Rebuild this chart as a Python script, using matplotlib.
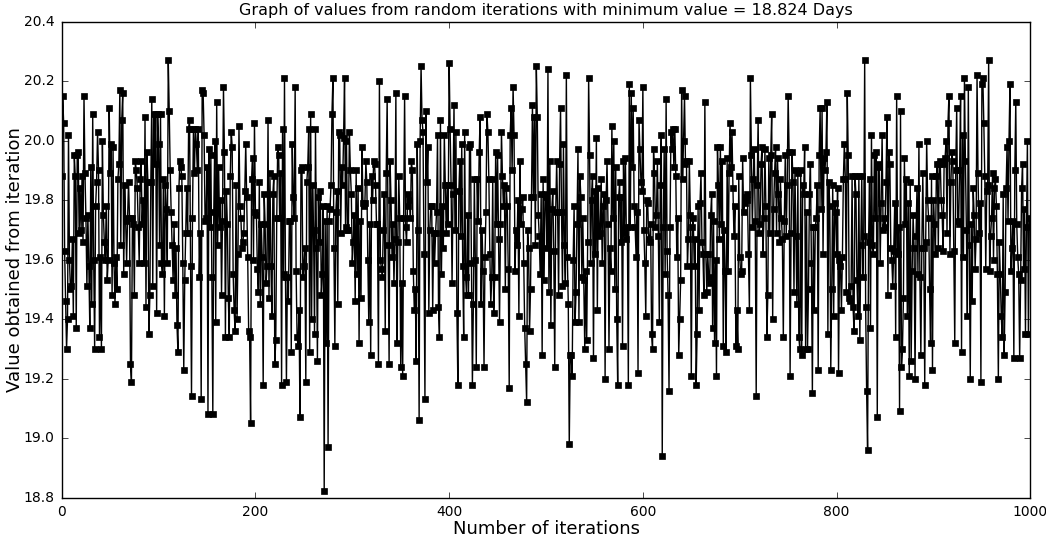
import numpy as np
import matplotlib
matplotlib.use('Agg')
import matplotlib.pyplot as plt

# values, one per iteration (0..999)
values = [
    # 0-84
    19.88, 20.15, 20.06, 19.63, 19.46, 19.30, 19.40, 20.02, 19.60, 19.50,
    19.51, 19.67, 19.41, 19.95, 19.88, 19.37, 19.95, 19.96, 19.69, 19.84,
    19.70, 19.88, 19.66, 20.15, 19.89, 19.74, 19.51, 19.75, 19.58, 19.37,
    19.91, 19.45, 20.09, 19.60, 19.30, 19.78, 19.86, 20.03, 19.90, 19.34,
    19.61, 19.30, 20.00, 19.75, 19.66, 19.60, 19.78, 19.53, 19.60, 20.11,
    19.89, 19.99, 19.48, 19.98, 19.59, 19.45, 19.61, 19.50, 19.87, 19.92,
    20.17, 19.65, 20.07, 20.16, 19.55, 19.85, 19.73, 19.59, 19.74, 19.86,
    19.74, 19.25, 19.19, 19.74, 19.72, 19.48, 19.93, 19.90, 19.84, 19.71,
    19.59, 19.87, 19.93, 19.72, 19.80,
    # 85-170
    19.59, 20.08, 19.44, 19.96, 19.86,
    19.35, 19.48, 19.86, 20.14, 19.51, 20.09, 19.92, 20.09, 19.42, 20.09,
    19.99, 19.65, 20.09, 19.59, 19.55, 19.87, 19.41, 19.85, 19.77, 19.59,
    20.27, 20.10, 19.90, 19.76, 19.65, 19.53, 19.72, 19.48, 19.64, 19.38,
    19.29, 19.84, 19.93, 19.91, 19.88, 19.59, 19.23, 19.53, 19.69, 19.84,
    19.69, 20.04, 20.07, 19.58, 19.14, 19.74, 20.04, 19.89, 20.04, 19.99,
    19.90, 20.04, 19.54, 19.69, 19.13, 20.17, 20.16, 20.02, 19.73, 19.74,
    19.91, 19.08, 19.97, 19.71, 19.95, 19.54, 19.08, 19.76, 20.00, 19.39,
    20.13, 19.65, 19.91, 19.71, 19.80, 19.48, 19.73, 20.18, 19.96, 19.34,
    19.83,
    # 171-260
    19.72, 19.47, 19.34, 19.88, 20.03, 19.98, 19.55, 19.43, 19.36,
    19.85, 19.40, 19.62, 20.05, 19.78, 19.74, 19.64, 19.66, 19.69, 19.83,
    19.99, 19.81, 19.61, 19.36, 19.34, 19.05, 19.87, 19.94, 19.60, 20.06,
    19.76, 19.75, 19.57, 19.49, 19.86, 19.45, 19.72, 19.61, 19.18, 19.82,
    19.72, 19.52, 19.58, 20.07, 19.47, 19.89, 19.58, 19.41, 19.82, 19.88,
    19.25, 19.33, 19.74, 19.98, 19.95, 19.74, 19.89, 19.18, 20.04, 19.55,
    20.21, 19.54, 19.19, 19.54, 19.46, 19.73, 19.73, 19.29, 19.99, 19.81,
    19.74, 20.18, 19.56, 19.34, 19.31, 19.43, 19.07, 19.90, 19.91, 19.54,
    19.58, 19.64, 19.19, 19.86, 19.91, 20.04, 19.29, 20.09, 19.40, 19.85,
    19.70,
    # 261-349
    19.35, 20.04, 19.64, 19.26, 19.81, 19.66, 19.83, 19.48, 19.55, 19.78,
    18.824, 19.73, 19.32, 19.78, 18.97, 19.73, 19.77, 19.85, 20.09, 20.21,
    19.64, 19.31, 19.76, 19.83, 19.45, 20.03, 20.02, 19.69, 19.91, 19.85,
    20.01, 20.21, 19.71, 20.00, 19.70, 19.70, 20.03, 19.90, 19.82, 19.59,
    19.66, 19.75, 19.46, 19.90, 19.55, 19.84, 19.32, 19.73, 19.47, 19.98,
    19.79, 19.78, 19.79, 19.93, 19.86, 19.60, 19.39, 19.72, 19.28, 19.88,
    19.80, 19.93, 19.92, 19.85, 19.72, 19.72, 19.25, 20.20, 19.60, 19.57,
    19.54, 19.70, 19.82, 19.36, 19.89, 20.14, 19.65, 19.25, 19.93, 19.80,
    19.61, 19.72, 19.52, 19.67, 20.16, 19.32, 19.66, 19.88, 19.74,
    # 350-435
    19.24, 19.52, 19.21, 19.74, 20.15, 19.71, 19.66, 19.78, 19.82, 19.80,
    19.74, 19.93, 19.90, 19.56, 19.43, 19.50, 19.26, 19.99, 19.70, 19.06,
    20.00, 20.25, 20.07, 20.03, 19.62, 19.13, 20.10, 19.86, 19.98, 19.42,
    19.70, 19.78, 19.78, 19.43, 19.69, 19.59, 19.69, 19.76, 20.02, 19.44,
    19.34, 20.07, 19.55, 19.78, 19.64, 20.02, 19.85, 19.69, 19.85, 19.72,
    20.26, 20.04, 19.85, 19.52, 19.82, 20.12, 19.70, 20.03, 19.42, 19.18,
    19.83, 19.93, 19.68, 19.99, 19.58, 19.34, 20.03, 19.54, 19.48, 19.75,
    19.48, 19.98, 19.99, 19.59, 19.18, 19.45, 19.87, 19.60, 19.24, 19.87,
    19.73, 19.96, 20.08, 19.45, 19.70, 19.56,
    # 436-525
    19.24, 19.61, 19.76, 20.09, 20.03, 19.87, 19.62, 19.45, 19.54, 19.87,
    19.42, 19.54, 19.96, 19.72, 19.95, 19.67, 19.39, 19.72, 20.03, 19.88,
    19.78, 19.85, 19.50, 19.84, 19.78, 19.57, 19.17, 20.02, 20.11, 19.90,
    20.18, 20.02, 19.56, 19.70, 19.65, 19.80, 19.41, 19.93, 19.72, 19.77,
    19.81, 19.59, 19.37, 19.25, 19.12, 19.70, 19.64, 19.36, 19.50, 19.81,
    20.12, 19.81, 20.08, 19.65, 20.25, 20.08, 19.75, 19.68, 19.55, 19.82,
    19.28, 19.87, 19.53, 19.82, 19.81, 19.64, 20.24, 19.49, 19.93, 19.38,
    19.77, 19.83, 19.63, 19.24, 19.76, 19.93, 19.76, 19.48, 19.92, 20.11,
    19.76, 19.51, 19.99, 19.65, 19.52, 20.22, 19.61, 19.45, 18.98, 19.28,
    # 526-612
    19.28, 19.21, 19.60, 19.78, 19.39, 19.49, 19.72, 19.97, 19.39, 19.88,
    19.81, 19.54, 19.74, 19.53, 19.30, 19.56, 19.33, 19.66, 20.21, 19.95,
    19.59, 19.80, 19.88, 19.27, 19.83, 19.62, 20.01, 19.43, 19.84, 19.68,
    19.69, 19.87, 19.59, 19.78, 19.82, 19.20, 19.80, 19.93, 19.72, 19.30,
    19.64, 19.56, 20.05, 19.74, 20.00, 19.50, 19.91, 19.40, 19.18, 19.81,
    19.86, 19.66, 19.81, 19.31, 19.93, 19.69, 19.94, 19.67, 19.71, 19.18,
    20.19, 19.71, 20.16, 19.91, 20.11, 19.78, 19.71, 19.61, 19.76, 19.22,
    20.07, 19.97, 19.86, 19.83, 20.18, 19.70, 19.59, 19.41, 19.80, 19.79,
    19.67, 19.66, 19.72, 19.35, 19.30, 19.97, 19.89,
    # 613-697
    19.71, 19.75, 19.93, 19.68, 19.39, 19.85, 20.02, 18.94, 19.71, 19.97,
    19.55, 20.14, 19.63, 19.48, 19.16, 19.71, 20.03, 19.97, 20.04, 19.91,
    20.04, 19.88, 19.61, 19.74, 19.28, 19.40, 19.53, 20.17, 19.87, 20.00,
    20.15, 19.92, 19.93, 19.58, 19.67, 19.93, 19.75, 19.21, 19.71, 19.74,
    19.58, 19.67, 19.18, 19.35, 19.78, 19.43, 19.79, 19.89, 19.66, 19.62,
    19.48, 20.13, 19.62, 19.49, 19.62, 19.54, 19.52, 19.75, 19.82, 19.37,
    19.73, 19.32, 19.60, 19.21, 19.98, 19.85, 19.67, 19.98, 19.72, 19.93,
    19.31, 19.70, 19.56, 19.29, 19.94, 19.56, 19.89, 20.06, 19.91, 20.03,
    19.84, 19.68, 19.78, 19.31, 19.43,
    # 698-784
    19.30, 19.88, 19.61, 19.55, 19.56, 19.94, 19.76, 19.79, 19.81, 19.82,
    19.80, 19.62, 19.43, 20.21, 19.95, 19.71, 19.87, 19.97, 19.73, 19.14,
    19.85, 20.07, 19.69, 19.72, 19.92, 19.98, 19.62, 19.74, 19.97, 19.78,
    19.34, 19.48, 19.94, 19.69, 19.95, 20.09, 19.40, 19.77, 19.89, 19.98,
    19.69, 19.94, 19.82, 19.66, 19.87, 19.74, 19.67, 19.34, 19.73, 19.95,
    19.68, 19.85, 20.15, 19.96, 19.21, 19.69, 19.96, 19.86, 19.49, 19.90,
    19.68, 19.45, 19.89, 19.34, 19.30, 19.90, 19.28, 19.85, 19.82, 19.98,
    19.30, 19.76, 19.30, 19.50, 19.82, 19.92, 19.59, 19.15, 19.71, 19.43,
    19.71, 19.74, 19.85, 19.23, 19.95, 20.11, 19.77,
    # 785-870
    20.11, 19.62, 19.94, 19.90, 19.96, 20.13, 19.35, 19.86, 19.78, 19.23,
    19.50, 19.85, 19.41, 19.79, 19.76, 19.62, 19.84, 19.22, 19.60, 19.58,
    19.43, 19.61, 19.87, 19.99, 19.87, 19.49, 20.16, 19.95, 19.47, 19.46,
    19.51, 19.88, 19.44, 19.36, 19.88, 19.82, 19.53, 19.41, 19.88, 19.33,
    19.65, 19.88, 19.54, 19.68, 20.27, 19.44, 19.16, 18.96, 19.66, 19.87,
    19.37, 20.02, 19.65, 19.62, 19.95, 19.74, 19.96, 19.07, 19.92, 19.91,
    19.59, 19.79, 20.02, 19.70, 19.74, 19.71, 19.86, 20.08, 19.48, 19.96,
    19.92, 19.64, 19.60, 19.51, 19.63, 19.79, 19.34, 20.15, 19.62, 19.71,
    19.09, 20.10, 19.24, 19.30, 19.47, 19.94,
    # 871-962
    19.72, 19.87, 19.41, 19.79, 19.21, 19.86, 19.26, 19.56, 19.75, 19.64,
    19.20, 19.68, 19.84, 19.55, 19.99, 19.54, 19.28, 19.64, 19.89, 19.64,
    19.18, 19.66, 20.00, 19.80, 19.74, 19.50, 19.32, 19.88, 19.23, 19.80,
    19.72, 19.62, 19.88, 19.92, 19.64, 19.92, 19.93, 19.80, 19.75, 19.63,
    19.92, 19.94, 20.00, 19.69, 20.06, 20.15, 19.62, 19.86, 19.96, 19.93,
    19.63, 19.32, 19.90, 20.11, 19.73, 19.72, 19.90, 20.15, 19.29, 20.02,
    19.61, 20.21, 19.93, 19.70, 19.41, 20.18, 19.65, 19.20, 19.72, 19.46,
    19.84, 19.75, 19.57, 19.67, 20.22, 19.89, 19.69, 19.79, 19.19, 20.19,
    20.21, 20.06, 19.88, 19.57, 19.83, 19.85, 20.27, 19.56, 19.68, 19.74,
    19.89, 19.60,
    # 963-999
    19.84, 19.87, 19.78, 19.55, 19.20, 19.66, 19.55, 19.41, 19.34, 19.82,
    19.28, 19.49, 19.84, 19.98, 19.73, 20.00, 20.19, 19.56, 19.64, 19.73,
    19.27, 19.90, 20.13, 19.72, 19.61, 19.55, 19.27, 19.53, 19.84, 19.92,
    19.57, 19.77, 19.35, 19.71, 20.00, 19.35, 19.74,
]
iterations = np.arange(len(values))
min_value = 18.824

plt.style.use('classic')
fig = plt.figure(figsize=(10.46, 5.38), dpi=100, facecolor='white')
ax = fig.add_axes([0.059, 0.075, 0.926, 0.885])
ax.plot(iterations, values, color='black', linewidth=1, marker='s',
        markersize=4.8, markerfacecolor='black', markeredgecolor='black')
ax.set_xlim(0, 1000)
ax.set_ylim(18.8, 20.4)
ax.set_xticks(np.arange(0, 1001, 200))
ax.set_yticks(np.arange(18.8, 20.41, 0.2))
ax.set_yticklabels(['%.1f' % t for t in np.arange(18.8, 20.41, 0.2)])
ax.tick_params(labelsize=10, pad=5)
ax.set_title('Graph of values from random iterations with minimum value = %.3f Days' % min_value,
             fontsize=11.5)
ax.set_xlabel('Number of iterations', fontsize=13, labelpad=1)
ax.set_ylabel('Value obtained from iteration', fontsize=13, labelpad=0)

fig.savefig('out.png', dpi=100, facecolor='white')
